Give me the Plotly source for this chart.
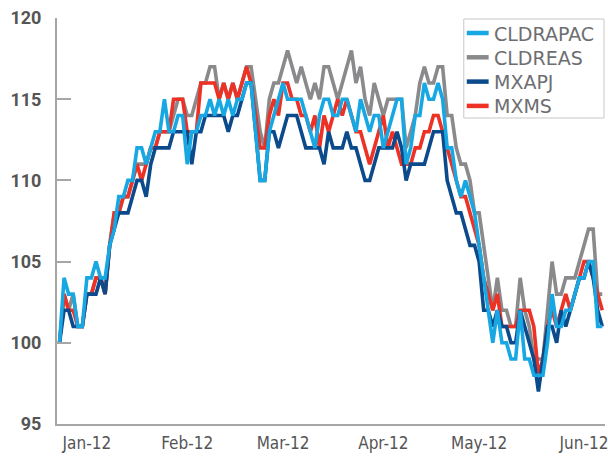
import plotly.graph_objects as go
import pandas as pd

# business-day dates, 23 Dec 2011 .. 7 Jun 2012 (120 points)
dates = [d.strftime("%Y-%m-%d") for d in pd.bdate_range("2011-12-23", "2012-06-07")]

tick_dates = ["2012-01-02", "2012-02-01", "2012-03-01", "2012-04-02", "2012-05-01", "2012-06-01"]
tick_labels = ["Jan-12", "Feb-12", "Mar-12", "Apr-12", "May-12", "Jun-12"]

CLDRAPAC = [100, 104, 103, 103, 101, 101, 104, 104, 105, 104, 104, 106, 107, 109, 109, 110, 110, 112, 112, 111,
            112, 113, 113, 115, 113, 113, 114, 114, 111, 113, 113, 114, 114, 115, 114, 115, 114, 115, 114, 115,
            115, 116, 116, 113, 110, 110, 113, 114, 115, 116, 115, 115, 115, 115, 114, 113, 112, 114, 115, 115,
            114, 114, 115, 115, 114, 113, 115, 114, 113, 114, 114, 112, 113, 114, 115, 115, 111, 112, 114, 114,
            116, 115, 115, 116, 115, 112, 112, 110, 109, 110, 109, 108, 106, 104, 102, 100, 102, 100, 100, 99,
            99, 102, 99, 99, 98, 98, 98, 100, 103, 101, 101, 102, 102, 103, 104, 104, 105, 105, 101, 101]

CLDREAS = [100, 103, 102, 103, 101, 101, 103, 103, 104, 104, 103, 106, 108, 108, 109, 109, 110, 111, 111, 111,
           112, 112, 113, 113, 113, 114, 115, 115, 114, 114, 115, 116, 116, 117, 117, 115, 116, 115, 116, 115,
           116, 117, 117, 115, 113, 112, 115, 116, 116, 117, 118, 117, 116, 117, 116, 115, 116, 115, 117, 117,
           116, 115, 116, 117, 118, 116, 117, 115, 114, 116, 115, 114, 115, 115, 115, 115, 112, 113, 114, 116,
           117, 116, 116, 117, 117, 114, 114, 112, 111, 111, 110, 108, 108, 106, 104, 102, 104, 102, 102, 101,
           101, 104, 102, 101, 99, 99, 99, 102, 105, 103, 103, 104, 104, 104, 105, 106, 107, 107, 103, 103]

MXAPJ = [100, 102, 102, 101, 101, 101, 103, 103, 103, 104, 103, 106, 107, 108, 108, 108, 109, 110, 110, 109,
         111, 112, 112, 112, 112, 113, 113, 113, 113, 111, 113, 113, 114, 114, 114, 114, 114, 113, 114, 114,
         115, 116, 116, 113, 110, 110, 113, 113, 112, 113, 114, 114, 114, 113, 112, 112, 112, 112, 111, 113,
         112, 112, 112, 113, 112, 112, 111, 110, 110, 111, 112, 112, 112, 112, 113, 112, 110, 111, 111, 111,
         111, 112, 113, 113, 113, 110, 109, 108, 108, 107, 106, 106, 105, 102, 102, 101, 102, 101, 101, 100,
         100, 102, 101, 100, 99, 97, 99, 101, 101, 100, 102, 101, 102, 103, 104, 104, 105, 104, 102, 101]

MXMS = [100, 103, 102, 102, 101, 101, 103, 103, 104, 104, 103, 106, 108, 108, 109, 109, 110, 111, 110, 111,
        112, 112, 113, 113, 113, 115, 115, 115, 113, 113, 113, 116, 116, 116, 116, 115, 116, 115, 116, 115,
        116, 117, 116, 114, 112, 112, 114, 115, 114, 116, 116, 115, 115, 114, 114, 113, 114, 112, 114, 113,
        114, 115, 114, 115, 114, 113, 113, 112, 111, 112, 113, 114, 112, 113, 112, 111, 111, 111, 112, 112,
        113, 113, 114, 114, 113, 112, 111, 110, 109, 109, 108, 107, 106, 104, 103, 102, 103, 101, 101, 101,
        101, 102, 102, 102, 101, 98, 99, 101, 102, 101, 102, 103, 102, 103, 104, 105, 105, 104, 103, 102]

y_ticks = [95, 100, 105, 110, 115, 120]

colors = {"CLDRAPAC": "#17a8e3", "CLDREAS": "#8a8a8d", "MXAPJ": "#0b4a8b", "MXMS": "#ed3125"}
values = {"CLDRAPAC": CLDRAPAC, "CLDREAS": CLDREAS, "MXAPJ": MXAPJ, "MXMS": MXMS}
draw_order = ["CLDREAS", "MXMS", "MXAPJ", "CLDRAPAC"]
legend_order = ["CLDRAPAC", "CLDREAS", "MXAPJ", "MXMS"]

fig = go.Figure()
for name in draw_order:
    fig.add_trace(go.Scatter(
        x=dates, y=values[name], name=name, mode="lines",
        line=dict(color=colors[name], width=3.6), showlegend=False,
    ))

# plot area in pixels: x 57..608, y 18..424
L, R, T, B = 57, 608, 18, 424
def px(x):
    return (x - L) / (R - L)
def py(y):
    return (B - y) / (B - T)

shapes = [dict(type="rect", xref="paper", yref="paper",
               x0=px(466), x1=px(607), y0=py(118), y1=py(19),
               line=dict(color="#c8c8c8", width=1), fillcolor="white", layer="above")]
annotations = []
for k, name in enumerate(legend_order):
    yy = 33 + k * 24.3
    shapes.append(dict(type="line", xref="paper", yref="paper",
                       x0=px(469), x1=px(491), y0=py(yy), y1=py(yy),
                       line=dict(color=colors[name], width=4.5), layer="above"))
    annotations.append(dict(xref="paper", yref="paper", x=px(494), y=py(yy + 0.5),
                            xanchor="left", yanchor="middle", showarrow=False,
                            text=name, font=dict(family="DejaVu Sans", size=19, color="#6d6e71")))

axis_col = "#a6a6a6"
fig.update_layout(
    width=608, height=458,
    margin=dict(l=L, r=608 - R, t=T, b=458 - B),
    paper_bgcolor="white", plot_bgcolor="white",
    showlegend=False,
    shapes=shapes, annotations=annotations,
    xaxis=dict(
        type="category", range=[-0.55, 119.6],
        tickmode="array", tickvals=tick_dates, ticktext=tick_labels,
        showgrid=False, zeroline=False,
        showline=True, linecolor=axis_col, linewidth=2,
        ticks="", tickfont=dict(family="DejaVu Sans Condensed, Roboto, sans-serif", size=17, color="#555555"),
        ticklabelstandoff=3,
    ),
    yaxis=dict(
        range=[95, 120], tickmode="array", tickvals=y_ticks,
        showgrid=False, zeroline=False,
        showline=True, linecolor=axis_col, linewidth=2,
        ticks="inside", ticklen=14, tickcolor=axis_col, tickwidth=2,
        tickfont=dict(family="Roboto", size=18, color="#555555", weight="bold"),
        ticklabelstandoff=10,
    ),
)

fig.write_html("out.html", config={"displayModeBar": False},
               post_script="document.body.style.margin='0';document.body.style.overflow='hidden';")
